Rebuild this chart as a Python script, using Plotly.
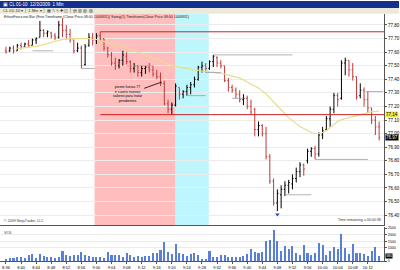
import plotly.graph_objects as go

# ---------------- data ----------------
opens = [77.61, 77.61, 77.63, 77.61, 77.65, 77.64, 77.66, 77.65, 77.69, 77.71,
         77.76, 77.74, 77.74, 77.72, 77.71, 77.80, 77.76, 77.73, 77.69, 77.61,
         77.63, 77.51, 77.65, 77.71, 77.69, 77.72, 77.70, 77.63, 77.58, 77.52,
         77.50, 77.54, 77.57, 77.53, 77.48, 77.50, 77.45, 77.48, 77.49, 77.47,
         77.44, 77.42, 77.37, 77.22, 77.18, 77.21, 77.34, 77.29, 77.31, 77.34,
         77.36, 77.40, 77.49, 77.50, 77.48, 77.53, 77.56, 77.52, 77.50, 77.39,
         77.34, 77.32, 77.29, 77.25, 77.26, 77.20, 77.18, 77.03, 77.06, 77.00,
         76.83, 76.65, 76.49, 76.55, 76.59, 76.62, 76.63, 76.67, 76.72, 76.77,
         76.80, 76.87, 76.89, 76.85, 76.99, 77.03, 77.11, 77.18, 77.28, 77.26,
         77.52, 77.54, 77.47, 77.42, 77.28, 77.32, 77.25, 77.19, 77.10, 77.05]
highs = [77.64, 77.64, 77.65, 77.66, 77.67, 77.67, 77.69, 77.70, 77.71, 77.83,
         77.77, 77.76, 77.75, 77.74, 77.83, 77.85, 77.80, 77.77, 77.69, 77.67,
         77.65, 77.66, 77.74, 77.74, 77.74, 77.75, 77.70, 77.64, 77.60, 77.56,
         77.55, 77.61, 77.60, 77.54, 77.52, 77.50, 77.50, 77.50, 77.52, 77.50,
         77.47, 77.45, 77.39, 77.25, 77.23, 77.37, 77.34, 77.32, 77.36, 77.38,
         77.42, 77.50, 77.53, 77.52, 77.54, 77.58, 77.57, 77.54, 77.50, 77.41,
         77.36, 77.34, 77.32, 77.29, 77.28, 77.25, 77.19, 77.09, 77.07, 77.05,
         76.85, 76.67, 76.59, 76.62, 76.65, 76.66, 76.70, 76.75, 76.79, 76.78,
         76.89, 76.90, 76.91, 77.01, 77.05, 77.13, 77.20, 77.30, 77.30, 77.54,
         77.56, 77.54, 77.52, 77.42, 77.37, 77.34, 77.31, 77.19, 77.13, 77.09]
lows = [77.59, 77.60, 77.59, 77.61, 77.62, 77.63, 77.64, 77.65, 77.66, 77.71,
        77.71, 77.71, 77.70, 77.69, 77.70, 77.71, 77.70, 77.67, 77.59, 77.60,
        77.48, 77.50, 77.64, 77.65, 77.66, 77.68, 77.61, 77.56, 77.50, 77.47,
        77.48, 77.50, 77.51, 77.45, 77.45, 77.42, 77.42, 77.44, 77.45, 77.42,
        77.40, 77.35, 77.21, 77.15, 77.14, 77.20, 77.25, 77.26, 77.28, 77.29,
        77.34, 77.39, 77.45, 77.45, 77.47, 77.49, 77.49, 77.48, 77.38, 77.31,
        77.30, 77.26, 77.23, 77.21, 77.18, 77.14, 76.98, 76.98, 76.98, 76.81,
        76.63, 76.47, 76.43, 76.45, 76.54, 76.56, 76.59, 76.64, 76.68, 76.69,
        76.78, 76.83, 76.81, 76.83, 76.96, 77.02, 77.05, 77.15, 77.20, 77.25,
        77.43, 77.42, 77.39, 77.25, 77.26, 77.20, 77.15, 77.07, 76.99, 76.95]
closes = [77.60, 77.63, 77.61, 77.65, 77.64, 77.66, 77.65, 77.69, 77.70, 77.76,
          77.74, 77.75, 77.72, 77.71, 77.80, 77.76, 77.73, 77.69, 77.61, 77.63,
          77.50, 77.64, 77.71, 77.69, 77.72, 77.70, 77.63, 77.58, 77.52, 77.50,
          77.54, 77.58, 77.53, 77.48, 77.50, 77.45, 77.48, 77.49, 77.47, 77.44,
          77.42, 77.37, 77.22, 77.18, 77.21, 77.35, 77.29, 77.31, 77.34, 77.36,
          77.40, 77.49, 77.50, 77.48, 77.53, 77.57, 77.52, 77.50, 77.39, 77.34,
          77.32, 77.29, 77.25, 77.26, 77.20, 77.16, 77.03, 77.06, 77.00, 76.83,
          76.65, 76.49, 76.56, 76.59, 76.62, 76.64, 76.67, 76.72, 76.77, 76.74,
          76.87, 76.89, 76.85, 76.99, 77.02, 77.11, 77.18, 77.28, 77.25, 77.52,
          77.54, 77.47, 77.42, 77.27, 77.32, 77.25, 77.19, 77.10, 77.05, 76.97]
volume = [150, 170, 200, 250, 250, 200, 450, 500, 200, 500,
          320, 250, 250, 230, 300, 750, 400, 320, 450, 450,
          650, 450, 320, 250, 250, 250, 230, 650, 450, 400,
          400, 250, 580, 400, 250, 320, 250, 380, 380, 580,
          580, 820, 1450, 620, 520, 1250, 580, 500, 380, 500,
          580, 450, 150, 150, 700, 250, 250, 450, 450, 250,
          250, 250, 300, 380, 500, 880, 620, 550, 620, 1500,
          1550, 2300, 1500, 750, 1120, 880, 1120, 550, 450, 1200,
          550, 450, 550, 1300, 1200, 450, 700, 1000, 880, 2000,
          950, 500, 1250, 550, 550, 500, 380, 750, 1000, 380]
vol_ticks = [0, 1000, 1500, 2000, 2500]
ma_start = 3
moving_avg = [77.628, 77.628, 77.635, 77.635, 77.642, 77.642, 77.649, 77.657, 77.664, 77.671,
              77.679, 77.686, 77.693, 77.693, 77.700, 77.700, 77.700, 77.700, 77.700, 77.700,
              77.693, 77.693, 77.686, 77.679, 77.671, 77.664, 77.657, 77.649, 77.642, 77.628,
              77.620, 77.613, 77.598, 77.591, 77.577, 77.569, 77.555, 77.547, 77.533, 77.526,
              77.511, 77.504, 77.497, 77.489, 77.482, 77.482, 77.475, 77.467, 77.467, 77.460,
              77.460, 77.453, 77.453, 77.446, 77.446, 77.438, 77.431, 77.424, 77.416, 77.409,
              77.395, 77.380, 77.365, 77.351, 77.336, 77.314, 77.293, 77.264, 77.234, 77.205,
              77.176, 77.147, 77.118, 77.096, 77.074, 77.052, 77.038, 77.023, 77.009, 77.001,
              77.001, 77.009, 77.023, 77.045, 77.067, 77.089, 77.103, 77.111, 77.118, 77.125,
              77.133, 77.140, 77.147, 77.154, 77.162, 77.162, 77.169]
time_labels = ["8:36", "8:40", "8:44", "8:48", "8:52", "8:56", "9:00", "9:04", "9:08",
               "9:12", "9:16", "9:20", "9:24", "9:28", "9:32", "9:36", "9:40", "9:44",
               "9:48", "9:52", "9:56", "10:00", "10:04", "10:08", "10:12"]
label_step = 4
levels = [77.75, 77.14]
level_start = 25
zones = [(23.5, 45.0, "#ffbdbd"), (45.0, 53.8, "#bdf6fc")]
swing_lines = [(7, 12.5, 77.61), (20, 23.5, 77.48), (32, 39, 77.50), (48, 53, 77.28),
               (53, 57, 77.45), (55, 76, 77.58), (60, 63, 77.26), (74, 81, 76.55),
               (82, 96, 76.81), (95.5, 100, 77.31)]
marker_bar = 72
note_text = "pivote fuerza 77<br>e cuatro nuevos<br>valores para tratar<br>pendientes"
note_pos = (32.3, 77.29)
note_target = (41.3, 77.38)

# ---------------- geometry ----------------
W, H = 400, 270
def py(p):
    return 1 - p / H

XR = [-1.59, 100.3]
XDOM = [0, 385 / W]
PRICE_RANGE = [76.324, 77.882]
VOL_RANGE = [0, 2550]
FONT = "Liberation Sans, Arial, sans-serif"
DOWN = "#bf3b3b"

n = len(closes)
xs = list(range(n))

fig = go.Figure()

fig.add_trace(go.Ohlc(
    x=xs, open=opens, high=highs, low=lows, close=closes,
    increasing=dict(line=dict(color="black", width=1)),
    decreasing=dict(line=dict(color=DOWN, width=1)),
    tickwidth=0.3, xaxis="x", yaxis="y", showlegend=False, hoverinfo="skip"))

fig.add_trace(go.Scatter(
    x=list(range(ma_start, ma_start + len(moving_avg))), y=moving_avg,
    mode="lines", line=dict(color="#e9dc8a", width=1.2, shape="spline"),
    xaxis="x", yaxis="y", showlegend=False, hoverinfo="skip"))

fig.add_trace(go.Scatter(
    x=[marker_bar], y=[lows[marker_bar] - 0.025], mode="markers",
    marker=dict(symbol="triangle-down", size=4, color="#2a4fc0"),
    xaxis="x", yaxis="y", showlegend=False, hoverinfo="skip"))

fig.add_trace(go.Bar(
    x=xs, y=volume, marker=dict(color="#5a7fd8", line=dict(width=0)),
    width=0.55, xaxis="x2", yaxis="y2", showlegend=False, hoverinfo="skip"))

shapes = []
# window chrome
shapes.append(dict(type="rect", xref="paper", yref="paper", x0=0, x1=1, y0=py(7), y1=1,
                   fillcolor="#14318f", line=dict(width=0), layer="below"))
shapes.append(dict(type="rect", xref="paper", yref="paper", x0=0, x1=1, y0=py(13), y1=py(7),
                   fillcolor="#ece9d8", line=dict(width=0), layer="below"))
# shaded zones
for x0, x1, col in zones:
    shapes.append(dict(type="rect", xref="x", yref="paper", x0=x0, x1=x1,
                       y0=py(227), y1=py(13), fillcolor=col, line=dict(width=0), layer="below"))
# red levels
for lv in levels:
    shapes.append(dict(type="line", xref="x", yref="y", x0=level_start, x1=XR[1],
                       y0=lv, y1=lv, line=dict(color="#d02020", width=1)))
# swing lines
for x0, x1, lv in swing_lines:
    shapes.append(dict(type="line", xref="x", yref="y", x0=x0, x1=x1, y0=lv, y1=lv,
                       line=dict(color="#a0a0a0", width=0.8)))

annotations = []
def note(x, y, text, size, color, xanchor="left", **kw):
    d = dict(x=x / W, y=py(y), xref="paper", yref="paper", showarrow=False,
             xanchor=xanchor, yanchor="middle", text=text,
             font=dict(family=FONT, size=size, color=color), borderpad=0)
    d.update(kw)
    annotations.append(d)

note(2, 3.6, "▣ CL 01-10  12/3/2009  1 Min", 4.5, "white")
note(2, 10, "CL 01-10 ▾ │ 1 Min ▾ │ ▦ ✎ ↖ ✚ ◫ │ ▤ ▥ ▧ ▨", 4.2, "#333")
note(3, 16, "EthosForce.net Bar (Fine Timeframe (Close Price 08:00 1440831)) Swing(1) Timeframe(Close Price 08:00 1440831)",
     3.6, "#222")
note(3, 222, "© 2009 NinjaTrader, LLC", 3.6, "#333")
note(383, 221, "Time remaining = 00:00:38", 3.6, "#333", xanchor="right")
note(3, 234, "VOL", 4, "#333")

annotations.append(dict(x=note_target[0], y=note_target[1], ax=note_pos[0], ay=note_pos[1],
                        xref="x", yref="y", axref="x", ayref="y", showarrow=True,
                        arrowhead=0, arrowwidth=0.8, arrowcolor="black",
                        text=note_text, font=dict(family=FONT, size=3.6, color="black"),
                        align="center"))
# right-axis value boxes
annotations.append(dict(x=XDOM[1] + 1 / W, y=levels[1], xref="paper", yref="y", showarrow=False,
                        xanchor="left", yanchor="middle", text="%.2f" % levels[1], bgcolor="#f2e34a",
                        font=dict(family=FONT, size=4.5, color="black"), borderpad=0))
annotations.append(dict(x=XDOM[1] + 1 / W, y=closes[-1], xref="paper", yref="y", showarrow=False,
                        xanchor="left", yanchor="middle", text="%.2f" % closes[-1], bgcolor="black",
                        font=dict(family=FONT, size=4.5, color="white"), borderpad=0))
annotations.append(dict(x=XDOM[1] + 1 / W, y=volume[-1], xref="paper", yref="y2", showarrow=False,
                        xanchor="left", yanchor="middle", text=str(volume[-1]), bgcolor="black",
                        font=dict(family=FONT, size=3.6, color="white"), borderpad=0))

fig.update_layout(
    width=W, height=H, margin=dict(l=0, r=0, t=0, b=0),
    paper_bgcolor="white", plot_bgcolor="white",
    font=dict(family=FONT, size=4.5, color="black"),
    shapes=shapes, annotations=annotations, bargap=0,
    xaxis=dict(domain=XDOM, range=XR, anchor="y", showticklabels=False, showgrid=False,
               zeroline=False, showline=True, linecolor="#555", linewidth=1,
               rangeslider=dict(visible=False), fixedrange=True),
    yaxis=dict(domain=[py(227), py(13)], range=PRICE_RANGE, anchor="x", side="right",
               tick0=76.4, dtick=0.1, tickformat=".2f", ticks="outside", ticklen=2,
               tickcolor="#555", showline=True, linecolor="#555", linewidth=1,
               showgrid=True, gridcolor="#ececec", gridwidth=0.6, zeroline=False,
               tickfont=dict(size=4.5, family=FONT)),
    xaxis2=dict(domain=XDOM, range=XR, anchor="y2", matches="x", showgrid=False,
                zeroline=False, showline=True, linecolor="#555", linewidth=1,
                ticks="outside", ticklen=2, tickcolor="#555",
                tickvals=list(range(0, n, label_step)), ticktext=time_labels,
                tickfont=dict(size=4, family=FONT)),
    yaxis2=dict(domain=[py(263), py(229)], range=VOL_RANGE, anchor="x2", side="right",
                tickvals=vol_ticks, ticks="outside", ticklen=2, tickcolor="#555",
                showline=True, linecolor="#555", linewidth=1, showgrid=True,
                gridcolor="#ececec", gridwidth=0.6, zeroline=False,
                tickfont=dict(size=3.6, family=FONT)),
)

fig.write_html("out.html")
